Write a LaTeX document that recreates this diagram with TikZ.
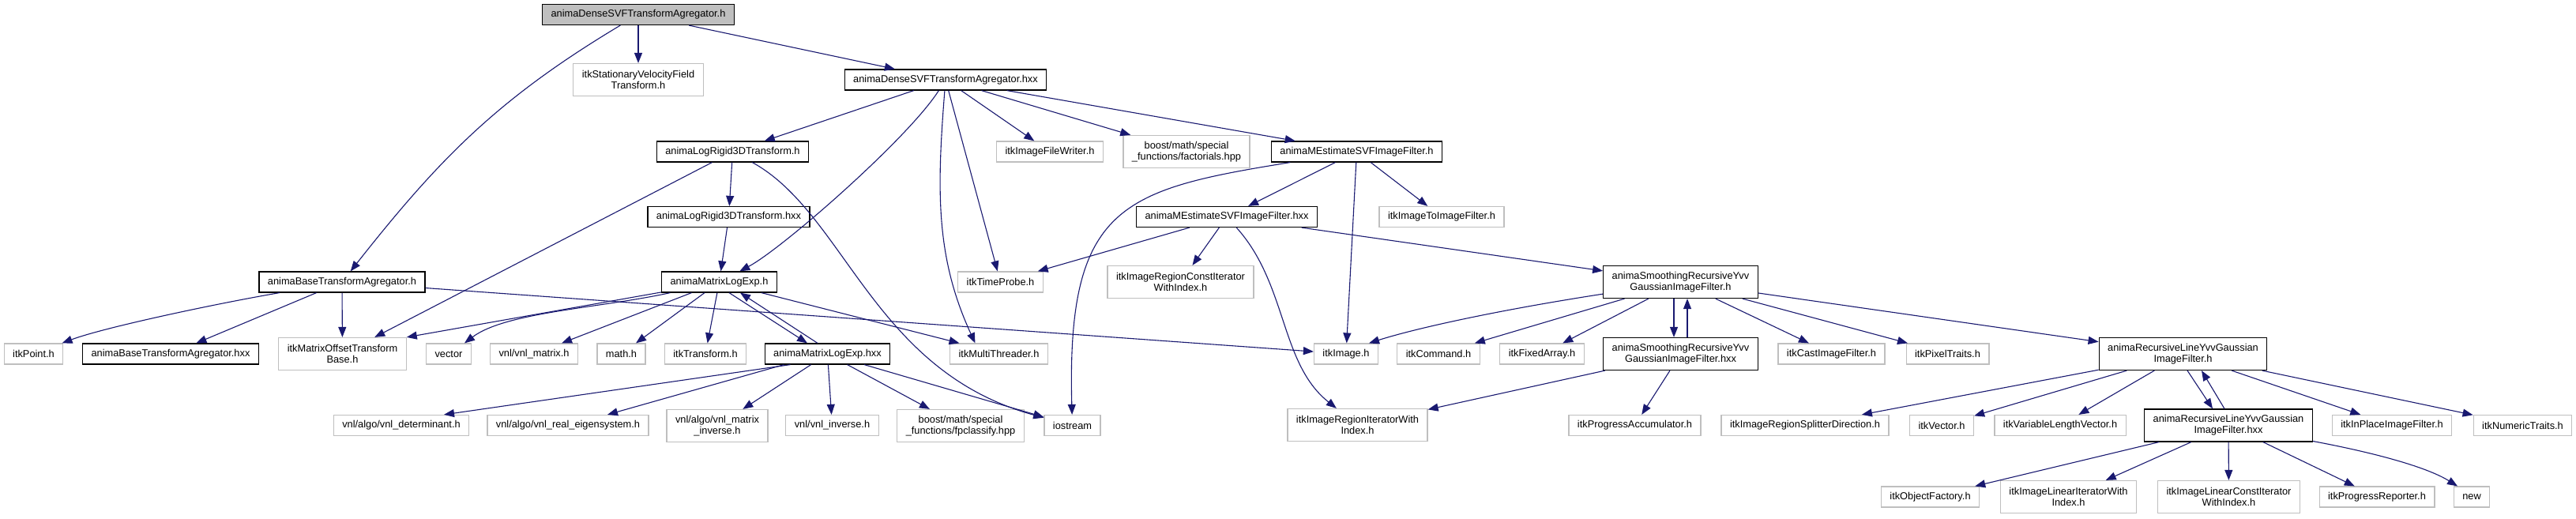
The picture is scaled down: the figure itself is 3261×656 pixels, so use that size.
\documentclass[tikz,border=0pt]{standalone}
\usepackage{fontspec}
\setmainfont{Liberation Sans}
\usetikzlibrary{arrows.meta}
\definecolor{edgeblue}{HTML}{191970}
\definecolor{boxgray}{HTML}{BFBFBF}

\begin{document}
\begin{tikzpicture}[x=1pt,y=-1pt,
    file/.style={rectangle, inner xsep=11pt, inner ysep=0pt, minimum height=26pt,
        align=center, font=\fontsize{12.8}{14}\selectfont, line width=1.2pt},
    docbox/.style={file, draw=black, fill=white},
    extbox/.style={file, draw=boxgray, fill=white},
    mainbox/.style={file, draw=black, fill=boxgray},
    tall/.style={minimum height=41pt},
    dep/.style={-{Triangle[length=13pt,width=10pt]}, draw=edgeblue, line width=1.1pt}]
\useasboundingbox (0,0) rectangle (3261,656);

% draw the files, row by row
\node[mainbox] (root) at (808,18.5) {animaDenseSVFTransformAgregator.h};

\node[extbox,tall] (svf)  at (808,101)  {itkStationaryVelocityField\\Transform.h};
\node[docbox]      (dhxx) at (1197,101) {animaDenseSVFTransformAgregator.hxx};

\node[docbox]      (lrh)    at (927.5,192) {animaLogRigid3DTransform.h};
\node[extbox]      (writer) at (1329,192)  {itkImageFileWriter.h};
\node[extbox,tall] (fact)   at (1502,192)  {boost/math/special\\\_functions/factorials.hpp};
\node[docbox]      (meh)    at (1717.5,192) {animaMEstimateSVFImageFilter.h};

\node[docbox] (lrhxx) at (922.5,274.5) {animaLogRigid3DTransform.hxx};
\node[docbox] (mehxx) at (1553,274.5)  {animaMEstimateSVFImageFilter.hxx};
\node[extbox] (toimg) at (1825,274.5)  {itkImageToImageFilter.h};

\node[docbox]      (baseh)  at (433,357)    {animaBaseTransformAgregator.h};
\node[docbox]      (mleh)   at (910.5,357)  {animaMatrixLogExp.h};
\node[extbox]      (probe)  at (1266.5,357) {itkTimeProbe.h};
\node[extbox,tall] (rconst) at (1494.5,357) {itkImageRegionConstIterator\\WithIndex.h};
\node[docbox,tall] (smh)    at (2127.5,357) {animaSmoothingRecursiveYvv\\GaussianImageFilter.h};

\node[extbox]      (point)   at (42.5,448)   {itkPoint.h};
\node[docbox]      (basehxx) at (216,448)    {animaBaseTransformAgregator.hxx};
\node[extbox,tall] (mot)     at (433.5,448)  {itkMatrixOffsetTransform\\Base.h};
\node[extbox]      (vector)  at (568,448)    {vector};
\node[extbox]      (vnlmat)  at (676,448)    {vnl/vnl\_matrix.h};
\node[extbox]      (math)    at (786.5,448)  {math.h};
\node[extbox]      (transf)  at (893,448)    {itkTransform.h};
\node[docbox]      (mlehxx)  at (1047.5,448) {animaMatrixLogExp.hxx};
\node[extbox]      (thread)  at (1264.5,448) {itkMultiThreader.h};
\node[extbox]      (image)   at (1704,448)   {itkImage.h};
\node[extbox]      (command) at (1821,448)   {itkCommand.h};
\node[extbox]      (fixed)   at (1952,448)   {itkFixedArray.h};
\node[docbox,tall] (smhxx)   at (2127.5,448) {animaSmoothingRecursiveYvv\\GaussianImageFilter.hxx};
\node[extbox]      (cast)    at (2318.5,448) {itkCastImageFilter.h};
\node[extbox]      (pixel)   at (2465.5,448) {itkPixelTraits.h};
\node[docbox,tall] (rlh)     at (2763.5,448) {animaRecursiveLineYvvGaussian\\ImageFilter.h};

\node[extbox]      (det)     at (508,538.5)    {vnl/algo/vnl\_determinant.h};
\node[extbox]      (eig)     at (719,538.5)    {vnl/algo/vnl\_real\_eigensystem.h};
\node[extbox,tall] (minv)    at (908,539)      {vnl/algo/vnl\_matrix\\\_inverse.h};
\node[extbox]      (vinv)    at (1053.5,538.5) {vnl/vnl\_inverse.h};
\node[extbox,tall] (fpc)     at (1216,539)     {boost/math/special\\\_functions/fpclassify.hpp};
\node[extbox]      (ios)     at (1357.5,538.5) {iostream};
\node[extbox,tall] (rit)     at (1718.5,538)   {itkImageRegionIteratorWith\\Index.h};
\node[extbox]      (pacc)    at (2069.5,538.5) {itkProgressAccumulator.h};
\node[extbox]      (split)   at (2285,538.5)   {itkImageRegionSplitterDirection.h};
\node[extbox]      (vec)     at (2458,538.5)   {itkVector.h};
\node[extbox]      (vlv)     at (2608,538.5)   {itkVariableLengthVector.h};
\node[docbox,tall] (rlhxx)   at (2821,538.5)   {animaRecursiveLineYvvGaussian\\ImageFilter.hxx};
\node[extbox]      (inplace) at (3028,538.5)   {itkInPlaceImageFilter.h};
\node[extbox]      (numeric) at (3193.5,538.5) {itkNumericTraits.h};

\node[extbox]      (objf) at (2443.5,629) {itkObjectFactory.h};
\node[extbox,tall] (lit)  at (2618.5,629) {itkImageLinearIteratorWith\\Index.h};
\node[extbox,tall] (lcit) at (2821.5,629) {itkImageLinearConstIterator\\WithIndex.h};
\node[extbox]      (prep) at (3009,629)   {itkProgressReporter.h};
\node[extbox]      (new)  at (3129,629)   {new};

% the includes of the top file
\draw[dep] (root) -- (svf);
\draw[dep] (root) -- (dhxx);
\draw[dep] (root) .. controls (630,125) and (556,201) .. (baseh);

\draw[dep] (dhxx) -- (lrh);
\draw[dep] (dhxx) .. controls (1150,175) and (990,315) .. (mleh);
\draw[dep] (dhxx) .. controls (1186,240) and (1184,325) .. ([xshift=-30pt]thread.north);
\draw[dep] (dhxx) -- (probe);
\draw[dep] (dhxx) -- (writer);
\draw[dep] (dhxx) -- (fact);
\draw[dep] (dhxx) -- (meh);

\draw[dep] (lrh) -- (lrhxx);
\draw[dep] (lrh) -- (mot);
\draw[dep] (lrh) .. controls (1070,270) and (1105,470) .. (ios);
\draw[dep] (lrhxx) -- (mleh);

\draw[dep] (meh) -- (mehxx);
\draw[dep] (meh) -- (toimg);
\draw[dep] (meh) -- (image);
\draw[dep] (meh) .. controls (1420,240) and (1350,260) .. (ios);

\draw[dep] (mehxx) -- (probe);
\draw[dep] (mehxx) -- (rconst);
\draw[dep] (mehxx) .. controls (1630,360) and (1620,460) .. (rit);
\draw[dep] (mehxx) -- (smh);

\draw[dep] (baseh) .. controls (270,385) and (130,415) .. (point);
\draw[dep] (baseh) -- (basehxx);
\draw[dep] (baseh) -- (mot);
\draw[dep] (baseh) -- (image);

% matrix log/exp and its hxx
\draw[dep] (mleh) -- (mot.north east);
\draw[dep] (mleh) .. controls (760,390) and (640,395) .. ([xshift=20pt]vector.north);
\draw[dep] (mleh) -- (vnlmat);
\draw[dep] (mleh) -- (math);
\draw[dep] (mleh) -- (transf);
\draw[dep] ([xshift=12.5pt]mleh.south) -- ([xshift=-25.5pt]mlehxx.north);  % h to hxx
\draw[dep] ([xshift=-12.5pt]mlehxx.north) -- ([xshift=26.5pt]mleh.south); % hxx to h
\draw[dep] (mleh) -- ([xshift=-50pt]thread.north);

\draw[dep] ([xshift=-47pt]mlehxx.south) -- ([xshift=54pt]det.north);
\draw[dep] ([xshift=-55pt]mlehxx.south) -- ([xshift=50pt]eig.north);
\draw[dep] (mlehxx) -- (minv);
\draw[dep] (mlehxx) -- (vinv);
\draw[dep] (mlehxx) -- (fpc);
\draw[dep] (mlehxx) -- (ios);

% smoothing filter
\draw[dep] (smh) .. controls (1900,392) and (1794,415) .. ([xshift=29pt]image.north);
\draw[dep] (smh) -- (command);
\draw[dep] (smh) -- (fixed);
\draw[dep] ([xshift=-8.5pt]smh.south) -- ([xshift=-8.5pt]smhxx.north); % h to hxx
\draw[dep] ([xshift=8.5pt]smhxx.north) -- ([xshift=8.5pt]smh.south);   % hxx to h
\draw[dep] (smh) -- (cast);
\draw[dep] (smh) -- (pixel);
\draw[dep] (smh) -- (rlh);
\draw[dep] (smhxx) -- (rit);
\draw[dep] (smhxx) -- (pacc);

% recursive line filter
\draw[dep] (rlh) -- (split);
\draw[dep] (rlh) -- (vec);
\draw[dep] (rlh) -- (vlv);
\draw[dep] ([xshift=5.5pt]rlh.south) -- ([xshift=-20pt]rlhxx.north);  % h to hxx
\draw[dep] ([xshift=-5pt]rlhxx.north) -- ([xshift=23.5pt]rlh.south);  % hxx to h
\draw[dep] (rlh) -- (inplace);
\draw[dep] (rlh) -- (numeric);

\draw[dep] (rlhxx) -- (objf);
\draw[dep] (rlhxx) -- (lit);
\draw[dep] (rlhxx) -- (lcit);
\draw[dep] (rlhxx) -- (prep);
\draw[dep] (rlhxx) .. controls (3000,572) and (3070,590) .. ([xshift=-18pt]new.north);

\end{tikzpicture}
\end{document}
